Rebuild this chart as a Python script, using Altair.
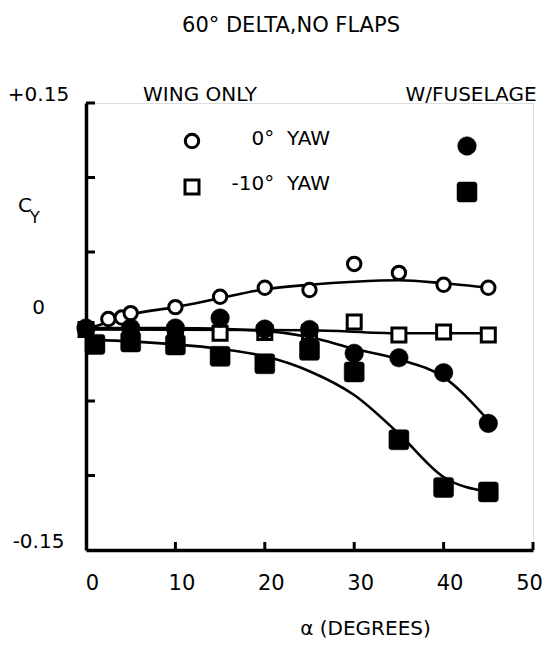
import altair as alt
import pandas as pd

W, H = 447, 447
FONT = "DejaVu Sans"

# ---- data ----
# wing only, 0 deg yaw (open circles)
oc_alpha = [0, 2.5, 4, 5, 10, 15, 20, 25, 30, 35, 40, 45]
oc_cy = [-0.002, 0.005, 0.006, 0.009, 0.013, 0.020, 0.026, 0.0245, 0.042, 0.036, 0.028, 0.026]
# wing only, -10 deg yaw (open squares)
os_alpha = [0, 5, 10, 15, 20, 25, 30, 35, 40, 45]
os_cy = [-0.002, -0.004, -0.004, -0.0045, -0.004, -0.004, 0.003, -0.0057, -0.0037, -0.0057]
# with fuselage, 0 deg yaw (filled circles)
fc_alpha = [0, 5, 10, 15, 20, 25, 30, 35, 40, 45]
fc_cy = [-0.001, -0.001, -0.001, 0.0057, -0.0017, -0.002, -0.018, -0.021, -0.031, -0.065]
# with fuselage, -10 deg yaw (filled squares)
fs_alpha = [1, 5, 10, 15, 20, 25, 30, 35, 40, 45]
fs_cy = [-0.012, -0.0104, -0.0124, -0.020, -0.025, -0.016, -0.0305, -0.076, -0.108, -0.111]

# faired curves
oc_curve_alpha = [0, 2.5, 5, 10, 15, 20, 25, 30, 35, 40, 45]
oc_curve_cy = [-0.002, 0.003, 0.008, 0.013, 0.019, 0.025, 0.028, 0.030, 0.031, 0.029, 0.026]
os_curve_alpha = [0, 25, 35, 45]
os_curve_cy = [-0.002, -0.0025, -0.0045, -0.0045]
fc_curve_alpha = [0, 10, 20, 25, 30, 35, 40, 45]
fc_curve_cy = [-0.001, -0.001, -0.003, -0.007, -0.015, -0.022, -0.034, -0.063]
fs_curve_alpha = [1, 5, 10, 15, 20, 25, 30, 35, 40, 45]
fs_curve_cy = [-0.009, -0.010, -0.012, -0.015, -0.020, -0.030, -0.046, -0.072, -0.101, -0.111]

x_tick_values = [0, 10, 20, 30, 40, 50]
y_tick_values = [-0.15, 0, 0.15]
y_tick_labels = ["-0.15", "0", "+0.15"]
x_minor = [10, 20, 30, 40, 50]
y_minor = [-0.10, -0.05, 0.05, 0.10, 0.15]


def frame(a, c):
    return pd.DataFrame({"alpha": a, "cy": c})


label_expr = " : ".join(
    f"datum.value == {v} ? '{t}'" for v, t in zip(y_tick_values, y_tick_labels)
) + " : ''"

x_axis = alt.Axis(
    values=x_tick_values, ticks=False, grid=False, domainColor="black", domainWidth=3.5,
    labelFont=FONT, labelFontSize=21, labelColor="black", labelPadding=22,
    labelOffset={"condition": {"test": "datum.value == 50", "value": -4}, "value": 6},
    labelFlush=False, labelOverlap=False, labelBound=False,
    title="α (DEGREES)", titleFont=FONT, titleFontSize=20, titleFontWeight="normal",
    titleColor="black", titleX=279, titleY=78, titleAlign="center", titleBaseline="middle",
)
y_axis = alt.Axis(
    values=y_tick_values, ticks=False, grid=False, domainColor="black", domainWidth=3.5,
    labelFont=FONT, labelFontSize=20, labelColor="black", labelPadding=48,
    labelAlign="center", labelBaseline="middle", labelExpr=label_expr,
    labelOffset={"condition": {"test": "datum.value == 0", "value": -19}, "value": -9},
    labelFlush=False, labelOverlap=False, labelBound=False, title=None,
)
X = alt.X("alpha:Q", scale=alt.Scale(domain=[0, 50], nice=False, zero=False), axis=x_axis)
Y = alt.Y("cy:Q", scale=alt.Scale(domain=[-0.15, 0.15], nice=False, zero=False), axis=y_axis)

ROUND_SQ = ("M -0.72,-1 L 0.72,-1 Q 1,-1 1,-0.72 L 1,0.72 Q 1,1 0.72,1 L -0.72,1 "
            "Q -1,1 -1,0.72 L -1,-0.72 Q -1,-1 -0.72,-1 Z")


def curve(a, c):
    return alt.Chart(frame(a, c)).mark_line(color="black", strokeWidth=2.6, interpolate="monotone").encode(x=X, y=Y)


def open_pts(a, c, shape, size):
    return alt.Chart(frame(a, c)).mark_point(
        shape=shape, filled=True, fill="white", stroke="black", strokeWidth=3, size=size, opacity=1
    ).encode(x=X, y=Y)


def filled_pts(a, c, shape, size):
    return alt.Chart(frame(a, c)).mark_point(
        shape=shape, filled=True, fill="black", stroke="black", strokeWidth=0.5, size=size, opacity=1
    ).encode(x=X, y=Y)


def text(t, x, y, size=20, align="center"):
    return alt.Chart(pd.DataFrame({"t": [t]})).mark_text(
        font=FONT, fontSize=size, color="black", align=align, baseline="middle"
    ).encode(x=alt.value(x), y=alt.value(y), text="t:N")


def sym(x, y, shape, size, filled):
    if filled:
        m = alt.Chart(pd.DataFrame({"k": [0]})).mark_point(
            shape=shape, filled=True, fill="black", stroke="black", strokeWidth=0.5, size=size, opacity=1)
    else:
        m = alt.Chart(pd.DataFrame({"k": [0]})).mark_point(
            shape=shape, filled=True, fill="white", stroke="black", strokeWidth=3, size=size, opacity=1)
    return m.encode(x=alt.value(x), y=alt.value(y))


y_ticks = alt.Chart(pd.DataFrame({"cy": y_minor})).mark_rule(color="black", strokeWidth=3).encode(
    y=Y, x=alt.value(0), x2=alt.value(9))
x_ticks = alt.Chart(pd.DataFrame({"alpha": x_minor})).mark_rule(color="black", strokeWidth=3).encode(
    x=X, y=alt.value(H), y2=alt.value(H - 8))

layers = [
    y_ticks, x_ticks,
    curve(oc_curve_alpha, oc_curve_cy),
    curve(os_curve_alpha, os_curve_cy),
    curve(fc_curve_alpha, fc_curve_cy),
    curve(fs_curve_alpha, fs_curve_cy),
    open_pts(oc_alpha, oc_cy, "circle", 180),
    open_pts(os_alpha, os_cy, "square", 196),
    filled_pts(fc_alpha, fc_cy, "circle", 346),
    filled_pts(fs_alpha, fs_cy, ROUND_SQ, 400),
    text("60° DELTA,NO FLAPS", 205, -77, size=21),
    text("WING ONLY", 114, -8),
    text("W/FUSELAGE", 385, -8),
    sym(106, 38, "circle", 180, False),
    text("0°\u00a0\u00a0YAW", 244, 36, align="right"),
    sym(106, 84, "square", 196, False),
    text("-10°\u00a0\u00a0YAW", 244, 81, align="right"),
    sym(381, 43, "circle", 346, True),
    sym(381, 89, ROUND_SQ, 400, True),
    text("C", -61, 103, size=20),
    text("Y", -51, 115, size=16),
]

chart = alt.layer(*layers).properties(
    width=W, height=H,
    autosize=alt.AutoSizeParams(type="none"),
    padding={"left": 78, "top": 95, "right": 10, "bottom": 90},
).configure_view(stroke=None).configure(background="white")

chart.save("out.html", embed_options={"renderer": "svg", "actions": False})
